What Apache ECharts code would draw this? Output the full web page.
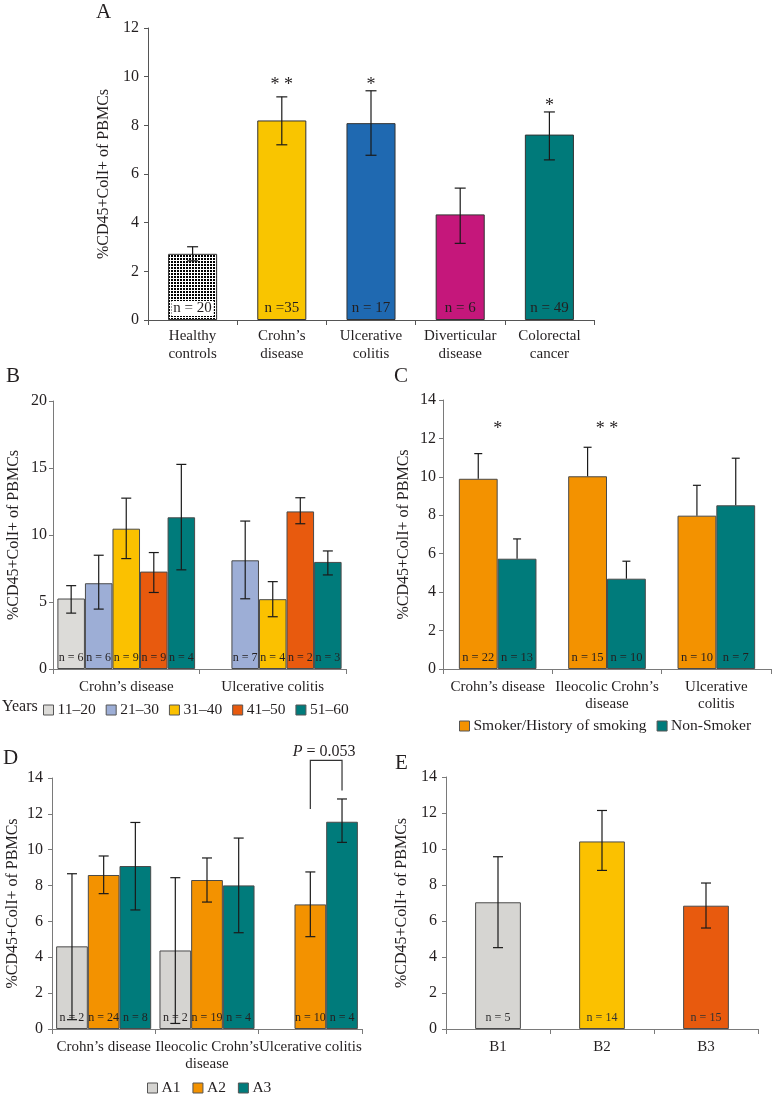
<!DOCTYPE html>
<html><head><meta charset="utf-8">
<script src="https://cdn.jsdelivr.net/npm/echarts@6/dist/echarts.min.js"></script>
<style>html,body{margin:0;padding:0;background:#fff}#c{width:772px;height:1094px}</style>
</head><body><div id="c"></div>
<script>
// ---------------- DATA ----------------
const yName = '%CD45+ColI+ of PBMCs';
// Panel A
const catsA = ['Healthy\ncontrols', 'Crohn\u2019s\ndisease', 'Ulcerative\ncolitis', 'Diverticular\ndisease', 'Colorectal\ncancer'];
const meanA = [2.72, 8.2, 8.09, 4.34, 7.62];
const lowA = [2.43, 7.2, 6.77, 3.15, 6.58];
const highA = [3.01, 9.17, 9.42, 5.42, 8.55];
const nA = ['n = 20', 'n =35', 'n = 17', 'n = 6', 'n = 49'];
const starsA = ['', '* *', '*', '', '*'];
const starLevelA = [null, 9.8, 9.8, null, 8.95];
const ticksA = [0, 2, 4, 6, 8, 10, 12];
// Panel B
const catsB = ['Crohn\u2019s disease', 'Ulcerative colitis'];
const ageGroups = ['11\u201320', '21\u201330', '31\u201340', '41\u201350', '51\u201360'];
const meanB = [[5.26, null], [6.4, 8.11], [10.47, 5.21], [7.27, 11.76], [11.32, 7.99]];
const lowB = [[4.17, null], [4.47, 5.24], [8.24, 3.9], [5.71, 10.84], [7.4, 7.02]];
const highB = [[6.22, null], [8.49, 11.04], [12.75, 6.52], [8.69, 12.78], [15.27, 8.81]];
const nB = [['n = 6', ''], ['n = 6', 'n = 7'], ['n = 9', 'n = 4'], ['n = 9', 'n = 2'], ['n = 4', 'n = 3']];
const ticksB = [0, 5, 10, 15, 20];
// Panel C
const catsC = ['Crohn\u2019s disease', 'Ileocolic Crohn\u2019s\ndisease', 'Ulcerative\ncolitis'];
const smokeGroups = ['Smoker/History of smoking', 'Non-Smoker'];
const meanC = [[9.9, 10.03, 7.98], [5.74, 4.7, 8.52]];
const highC = [[11.21, 11.54, 9.56], [6.77, 5.61, 10.97]];
const nC = [['n = 22', 'n = 15', 'n = 10'], ['n = 13', 'n = 10', 'n = 7']];
const starsC = ['*', '* *', ''];
const starLevelC = [12.7, 12.7, null];
const ticksC = [0, 2, 4, 6, 8, 10, 12, 14];
// Panel D
const catsD = ['Crohn\u2019s disease', 'Ileocolic Crohn\u2019s\ndisease', 'Ulcerative colitis'];
const groupsD = ['A1', 'A2', 'A3'];
const meanD = [[4.61, 4.38, null], [8.59, 8.31, 6.95], [9.09, 8.01, 11.56]];
const lowD = [[0.52, 0.31, null], [7.55, 7.08, 5.15], [6.64, 5.37, 10.41]];
const highD = [[8.66, 8.44, null], [9.65, 9.54, 8.76], [11.52, 10.65, 12.83]];
const nD = [['n = 2', 'n = 2', ''], ['n = 24', 'n = 19', 'n = 10'], ['n = 8', 'n = 4', 'n = 4']];
const bracketD = [12.27, 14.98, 13.3]; // left end, top, right end (value units)
const pTextD = '0.053';
const ticksD = [0, 2, 4, 6, 8, 10, 12, 14];
// Panel E
const catsE = ['B1', 'B2', 'B3'];
const meanE = [7.04, 10.42, 6.85];
const lowE = [4.52, 8.81, 5.61];
const highE = [9.57, 12.14, 8.11];
const nE = ['n = 5', 'n = 14', 'n = 15'];
const ticksE = [0, 2, 4, 6, 8, 10, 12, 14];

// ---------------- STYLE ----------------
const FONT = '"Liberation Serif", "Times New Roman", serif';
const TXT = '#231f20';
const AX = '#7a7a7a';
const BORDER = '#4a4a4a';
const colorsA = [null, '#F9C500', '#1F69B1', '#C5177B', '#007A7A'];
const colorsB = ['#DCDBD8', '#9DAED6', '#FBC100', '#E85A0E', '#007B7B'];
const colorsC = ['#F39200', '#007B7B'];
const colorsD = ['#D5D4D1', '#F39200', '#007B7B'];
const colorsE = ['#D6D5D2', '#FBC100', '#E85A0E'];

const pc = document.createElement('canvas');
pc.width = 3; pc.height = 3;
const pctx = pc.getContext('2d');
pctx.fillStyle = '#fff'; pctx.fillRect(0, 0, 3, 3);
pctx.fillStyle = '#000'; pctx.fillRect(0, 0, 2, 2);
const checker = { image: pc, repeat: 'repeat' };

const grids = [
  { left: 148, top: 28, width: 446, height: 292 },
  { left: 53, top: 401, width: 293, height: 268 },
  { left: 443, top: 400, width: 328, height: 269 },
  { left: 52, top: 778, width: 310, height: 251 },
  { left: 446, top: 777, width: 312, height: 252 }
].map(g => Object.assign({ containLabel: false, outerBoundsMode: 'none' }, g));

function yAxisCfg(gi, ticks, nameGap, lblMargin, axColor) {
  return {
    type: 'value', gridIndex: gi, min: ticks[0], max: ticks[ticks.length - 1], interval: ticks[1] - ticks[0],
    axisLine: { show: true, lineStyle: { color: axColor || AX, width: 1 } },
    axisTick: { show: true, length: 4, lineStyle: { color: axColor || AX } },
    splitLine: { show: false },
    axisLabel: { fontFamily: FONT, fontSize: 16, color: TXT, margin: lblMargin },
    name: yName, nameLocation: 'middle', nameGap: nameGap,
    nameTextStyle: { fontFamily: FONT, fontSize: 16, color: TXT }
  };
}
function xAxisCfg(gi, cats, lh, margin, axColor) {
  return {
    type: 'category', gridIndex: gi, data: cats,
    axisLine: { show: true, lineStyle: { color: axColor || AX, width: 1 } },
    axisTick: { show: true, length: 5, interval: 0, lineStyle: { color: axColor || AX } },
    axisLabel: { interval: 0, fontFamily: FONT, fontSize: 15, color: TXT, margin: margin, lineHeight: lh }
  };
}

function errSeries(gi, lows, highs, nSer, gap, cap, upperOnly) {
  const data = [];
  for (let k = 0; k < nSer; k++) {
    for (let i = 0; i < highs[k].length; i++) {
      if (highs[k][i] != null) data.push([i, lows[k][i], highs[k][i], k]);
    }
  }
  return {
    type: 'custom', xAxisIndex: gi, yAxisIndex: gi, z: 5, silent: true,
    encode: { x: 0, y: [1, 2] }, data: data,
    renderItem: function (p, api) {
      const i = api.value(0), lo = api.value(1), hi = api.value(2), k = api.value(3);
      const cw = api.size([1, 0])[0];
      const gw = cw * (1 - gap), bw = gw / nSer;
      const cx = api.coord([i, 0])[0] - gw / 2 + (k + 0.5) * bw;
      const yl = api.coord([i, lo])[1], yh = api.coord([i, hi])[1];
      const st = { stroke: '#1a1a1a', lineWidth: 1.2 };
      const ch = [
        { type: 'line', shape: { x1: cx, y1: yl, x2: cx, y2: yh }, style: st },
        { type: 'line', shape: { x1: cx - cap / 2, y1: yh, x2: cx + cap / 2, y2: yh }, style: st }
      ];
      if (!upperOnly) ch.push({ type: 'line', shape: { x1: cx - cap / 2, y1: yl, x2: cx + cap / 2, y2: yl }, style: st });
      return { type: 'group', children: ch };
    }
  };
}
function starSeries(gi, stars, levels) {
  const data = [];
  levels.forEach((v, i) => { if (v != null) data.push([i, v, i]); });
  return {
    type: 'custom', xAxisIndex: gi, yAxisIndex: gi, z: 6, silent: true,
    encode: { x: 0, y: 1 }, data: data,
    renderItem: function (p, api) {
      const i = api.value(0);
      const pt = api.coord([i, api.value(1)]);
      return { type: 'text', style: { text: stars[api.value(2)], x: pt[0], y: pt[1] + 4, textAlign: 'center', textVerticalAlign: 'middle', font: '18px ' + FONT, fill: TXT } };
    }
  };
}

function groupedBars(gi, names, means, labels, colors, gap, fs) {
  return names.map((nm, k) => ({
    type: 'bar', name: nm, xAxisIndex: gi, yAxisIndex: gi, data: means[k],
    barGap: '0%', barCategoryGap: (gap * 100) + '%',
    itemStyle: { color: colors[k], borderColor: BORDER, borderWidth: 1 },
    label: { show: true, position: 'insideBottom', distance: 5, fontFamily: FONT, fontSize: fs, color: TXT,
      formatter: p => labels[k][p.dataIndex] },
    z: 2
  }));
}

const series = [];
// A
series.push({
  type: 'bar', name: 'A', xAxisIndex: 0, yAxisIndex: 0, barWidth: '55%',
  data: meanA.map((v, i) => ({ value: v, itemStyle: { color: i === 0 ? checker : colorsA[i] } })),
  itemStyle: { borderColor: '#333', borderWidth: 1 },
  label: { show: true, position: 'insideBottom', distance: 4, fontFamily: FONT, fontSize: 15, color: TXT,
    formatter: p => nA[p.dataIndex] },
  z: 2
});
series[0].data[0].label = { backgroundColor: '#fff', padding: [0, 2, 0, 2] };
series.push(errSeries(0, [lowA], [highA], 1, 0, 11, false));
series.push(starSeries(0, starsA, starLevelA));
// B
const gapB = 0.06;
groupedBars(1, ageGroups, meanB, nB, colorsB, gapB, 12).forEach(s => series.push(s));
series.push(errSeries(1, lowB, highB, 5, gapB, 10, false));
// C
const gapC = 0.29;
groupedBars(2, smokeGroups, meanC, nC, colorsC, gapC, 12.5).forEach(s => series.push(s));
series.push(errSeries(2, meanC, highC, 2, gapC, 8, true));
series.push(starSeries(2, starsC, starLevelC));
// D
const gapD = 0.08;
groupedBars(3, groupsD, meanD, nD, colorsD, gapD, 12).forEach(s => series.push(s));
series.push(errSeries(3, lowD, highD, 3, gapD, 10, false));
series.push({
  type: 'custom', xAxisIndex: 3, yAxisIndex: 3, z: 6, silent: true, clip: false,
  encode: { x: 0, y: 1 }, data: [[2, bracketD[0], bracketD[1], bracketD[2]]],
  renderItem: function (p, api) {
    const i = api.value(0);
    const cw = api.size([1, 0])[0], gw = cw * (1 - gapD), bw = gw / 3;
    const c0 = api.coord([i, 0])[0] - gw / 2;
    const xl = c0 + 1.5 * bw, xr = c0 + 2.5 * bw;
    const yl = api.coord([i, api.value(1)])[1], yt = api.coord([i, api.value(2)])[1], yr = api.coord([i, api.value(3)])[1];
    return { type: 'group', children: [
      { type: 'polyline', shape: { points: [[xl, yl], [xl, yt], [xr, yt], [xr, yr]] }, style: { stroke: '#333', lineWidth: 1.2, fill: null } },
      { type: 'text', style: { text: '{i|P} = ' + pTextD, rich: { i: { fontStyle: 'italic', fontFamily: FONT, fontSize: 16, fill: TXT } },
        x: (xl + xr) / 2 - 2, y: yt - 1, textAlign: 'center', textVerticalAlign: 'bottom', font: '16px ' + FONT, fill: TXT } }
    ] };
  }
});
// E
series.push({
  type: 'bar', name: 'E', xAxisIndex: 4, yAxisIndex: 4, barWidth: '44%',
  data: meanE.map((v, i) => ({ value: v, itemStyle: { color: colorsE[i] } })),
  itemStyle: { borderColor: BORDER, borderWidth: 1 },
  label: { show: true, position: 'insideBottom', distance: 5, fontFamily: FONT, fontSize: 12, color: '#333',
    formatter: p => nE[p.dataIndex] },
  z: 2
});
series.push(errSeries(4, [lowE], [highE], 1, 0, 10, false));

const legendBase = {
  icon: 'rect', itemWidth: 10, itemHeight: 10, itemGap: 10, selectedMode: false,
  textStyle: { fontFamily: FONT, fontSize: 15.5, color: TXT, padding: [0, 0, 0, -1] },
  itemStyle: { borderColor: '#555', borderWidth: 1 }
};

const option = {
  animation: false,
  backgroundColor: '#fff',
  grid: grids,
  xAxis: [xAxisCfg(0, catsA, 18, 7, '#555'), xAxisCfg(1, catsB, 17, 10), xAxisCfg(2, catsC, 17, 10), xAxisCfg(3, catsD, 17, 10), xAxisCfg(4, catsE, 17, 10)],
  yAxis: [yAxisCfg(0, ticksA, 31, 9, '#555'), yAxisCfg(1, ticksB, 31, 6), yAxisCfg(2, ticksC, 31, 7), yAxisCfg(3, ticksD, 31, 9), yAxisCfg(4, ticksE, 36, 9)],
  legend: [
    Object.assign({}, legendBase, { data: ageGroups, left: 38, top: 697 }),
    Object.assign({}, legendBase, { data: smokeGroups, left: 454, top: 713 }),
    Object.assign({}, legendBase, { data: groupsD, left: 142, top: 1075, itemGap: 12 })
  ],
  graphic: [
    { type: 'text', left: 96, top: 2, style: { text: 'A', font: '21px ' + FONT, fill: TXT } },
    { type: 'text', left: 6, top: 366, style: { text: 'B', font: '21px ' + FONT, fill: TXT } },
    { type: 'text', left: 394, top: 366, style: { text: 'C', font: '21px ' + FONT, fill: TXT } },
    { type: 'text', left: 3, top: 748, style: { text: 'D', font: '21px ' + FONT, fill: TXT } },
    { type: 'text', left: 395, top: 753, style: { text: 'E', font: '21px ' + FONT, fill: TXT } },
    { type: 'text', left: 2, top: 699, style: { text: 'Years', font: '16px ' + FONT, fill: TXT } }
  ],
  series: series
};
const chart = echarts.init(document.getElementById('c'), null, { renderer: 'canvas' });
chart.setOption(option);
</script></body></html>
